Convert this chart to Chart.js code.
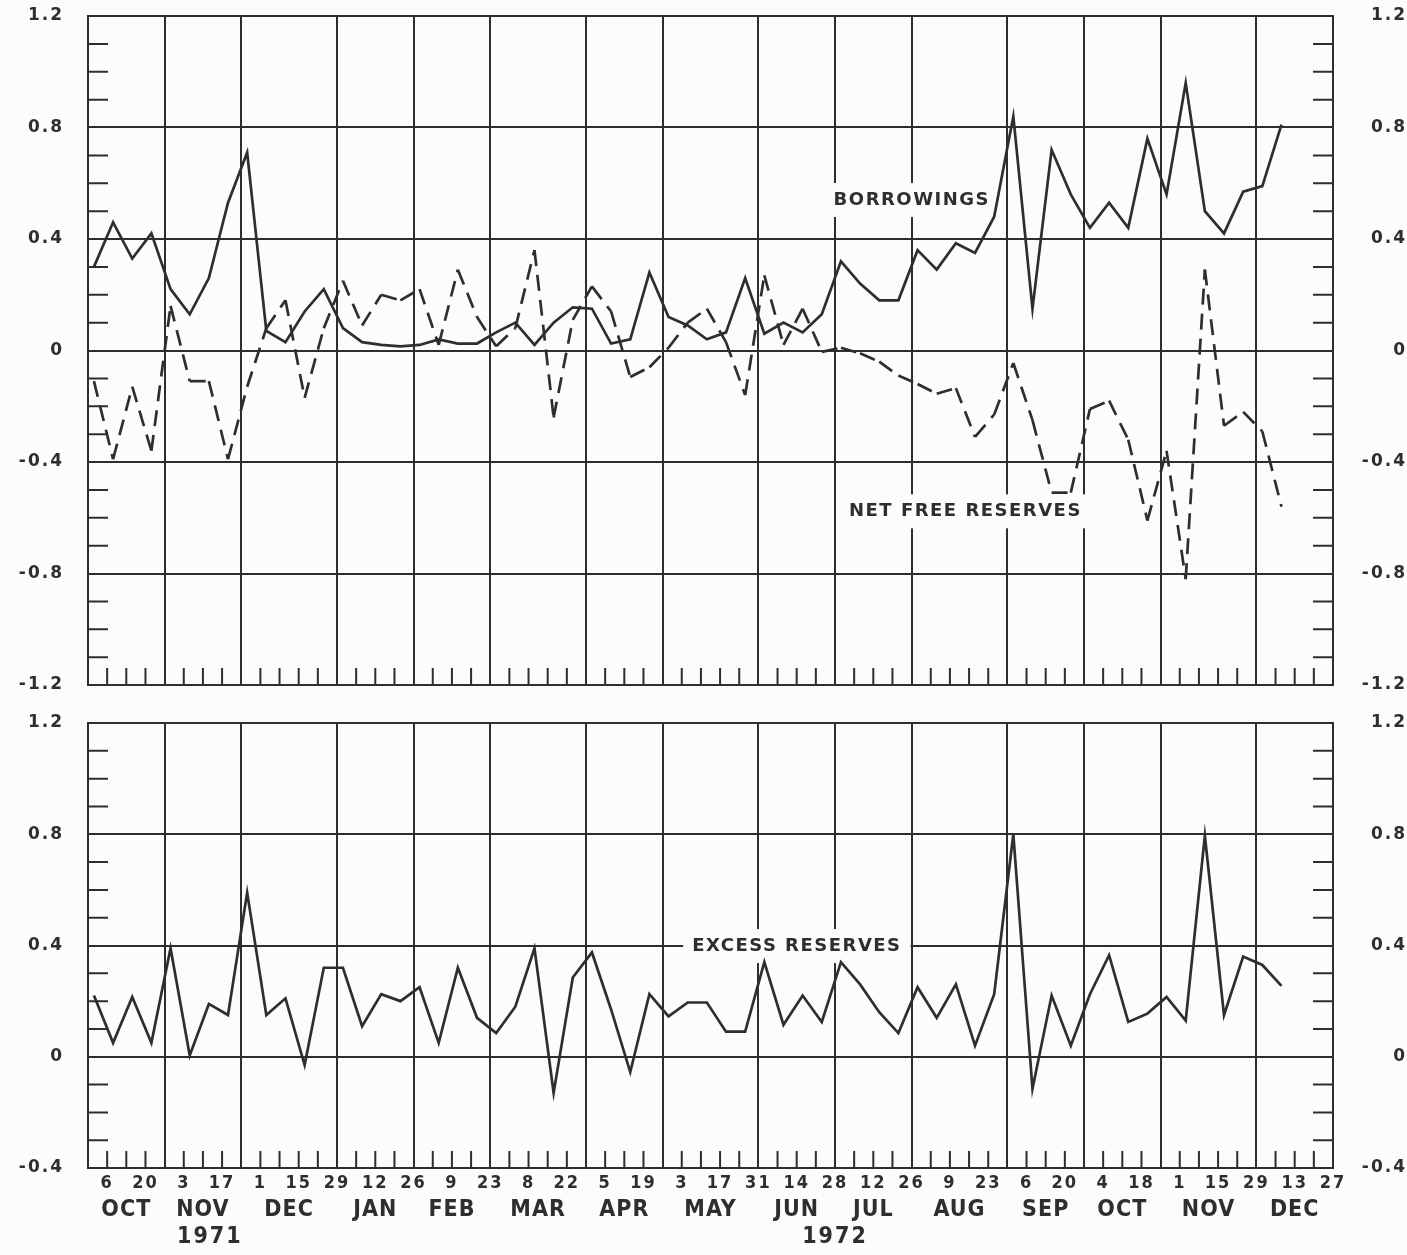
<!DOCTYPE html>
<html>
<head>
<meta charset="utf-8">
<script src="https://cdn.jsdelivr.net/npm/chart.js@4.4.1/dist/chart.umd.min.js"></script>
<style>
  html, body { margin: 0; padding: 0; background: #fcfcfc; }
  #wrap { position: relative; width: 1407px; height: 1255px; overflow: hidden; }
  canvas { position: absolute; left: 0; }
  #top { top: 0; }
  #bottom { top: 700px; }
</style>
</head>
<body>
<div id="wrap">
  <canvas id="top" width="1407" height="704"></canvas>
  <canvas id="bottom" width="1407" height="555"></canvas>
</div>
<script>
// weekly dates (wednesdays), 6 oct 1971 .. 27 dec 1972
const weekDays = ['6','13','20','27', '3','10','17','24', '1','8','15','22','29',
  '5','12','19','26', '2','9','16','23', '1','8','15','22','29', '5','12','19','26',
  '3','10','17','24','31', '7','14','21','28', '5','12','19','26', '2','9','16','23','30',
  '6','13','20','27', '4','11','18','25', '1','8','15','22','29', '6','13','20','27'];
const months = ['OCT','NOV','DEC','JAN','FEB','MAR','APR','MAY','JUN','JUL','AUG','SEP','OCT','NOV','DEC'];
const weeksInMonth = [4,4,5,4,4,5,4,5,4,4,5,4,4,5,4];
const years = ['1971', '1972'];

// billions of dollars, one value per week (oct 6 1971 .. dec 13 1972)
const borrowings = [0.30, 0.46, 0.33, 0.42, 0.22, 0.13, 0.26, 0.53, 0.71, 0.07,
  0.03, 0.14, 0.22, 0.08, 0.03, 0.02, 0.015, 0.02, 0.04, 0.025,
  0.025, 0.065, 0.10, 0.02, 0.10, 0.155, 0.15, 0.025, 0.04, 0.28,
  0.12, 0.09, 0.04, 0.065, 0.26, 0.06, 0.10, 0.065, 0.13, 0.32,
  0.24, 0.18, 0.18, 0.36, 0.29, 0.385, 0.35, 0.48, 0.84, 0.15,
  0.72, 0.56, 0.44, 0.53, 0.44, 0.76, 0.56, 0.96, 0.50, 0.42,
  0.57, 0.59, 0.81];
const netFreeReserves = [-0.11, -0.39, -0.13, -0.36, 0.16, -0.11, -0.11, -0.39, -0.13, 0.08,
  0.18, -0.17, 0.08, 0.25, 0.09, 0.20, 0.18, 0.22, 0.02, 0.29,
  0.12, 0.015, 0.08, 0.36, -0.24, 0.11, 0.23, 0.14, -0.095, -0.06,
  0.01, 0.10, 0.15, 0.03, -0.16, 0.27, 0.02, 0.15, -0.005, 0.01,
  -0.01, -0.04, -0.09, -0.12, -0.155, -0.135, -0.31, -0.23, -0.045, -0.25,
  -0.51, -0.51, -0.21, -0.18, -0.32, -0.61, -0.36, -0.82, 0.29, -0.27,
  -0.22, -0.29, -0.56];
const excessReserves = [0.22, 0.05, 0.215, 0.05, 0.39, 0.005, 0.19, 0.15, 0.59, 0.15,
  0.21, -0.03, 0.32, 0.32, 0.11, 0.225, 0.20, 0.25, 0.05, 0.32,
  0.14, 0.085, 0.18, 0.39, -0.13, 0.285, 0.375, 0.17, -0.055, 0.225,
  0.145, 0.195, 0.195, 0.09, 0.09, 0.34, 0.115, 0.22, 0.125, 0.34,
  0.26, 0.16, 0.085, 0.25, 0.14, 0.26, 0.04, 0.225, 0.80, -0.115,
  0.22, 0.04, 0.225, 0.365, 0.125, 0.155, 0.215, 0.13, 0.795, 0.15,
  0.36, 0.33, 0.255];

const INK = '#2e2e2e';
const NONE = 'rgba(0,0,0,0)';
const FIRST_EDGE = -0.31; // left edge of the first week slot, in weeks

// week slot edges and which of them are month boundaries
const edges = [];
for (let i = 0; i <= weekDays.length; i++) edges.push(Math.round((i + FIRST_EDGE) * 100) / 100);
const monthEdge = new Set([0]);
let cum = 0;
weeksInMonth.forEach(w => { cum += w; monthEdge.add(cum); });

const isMajor = v => Math.round(v * 10) % 4 === 0;
const fmt = v => Math.abs(v) < 1e-9 ? '0' : v.toFixed(1);
const toPoints = arr => arr.map((v, k) => ({ x: k, y: v }));

const tickFont = { family: "'DejaVu Sans', sans-serif", weight: 'bold', size: 17 };
const dayFont = { family: "'DejaVu Sans Condensed', 'DejaVu Sans', sans-serif", weight: 'bold', size: 18 };

const xScale = (showLabels) => ({
  type: 'linear',
  min: edges[0],
  max: edges[edges.length - 1],
  afterBuildTicks: s => { s.ticks = edges.map(v => ({ value: v })); },
  afterFit: s => { s.height = showLabels ? 87 : 0; },
  grid: { color: c => monthEdge.has(c.index) ? INK : NONE, lineWidth: 2, drawTicks: false },
  border: { color: INK, width: 2 },
  ticks: {
    display: showLabels, autoSkip: false, maxRotation: 0, minRotation: 0,
    padding: 5, color: INK, font: dayFont,
    callback: (v, i) => { const k = i - 1; return (k >= 0 && k % 2 === 0) ? weekDays[k] : ''; }
  }
});

// label offset is done with an invisible tick mark so the layout keeps its padding
const yScale = (min, max, pos) => ({
  type: 'linear',
  position: pos,
  min: min,
  max: max,
  afterBuildTicks: s => {
    const t = [];
    for (let i = Math.round(min * 10); i <= Math.round(max * 10); i++) t.push({ value: i / 10 });
    s.ticks = t;
  },
  afterFit: s => { s.width = pos === 'left' ? 88 : 74; },
  grid: {
    drawOnChartArea: pos === 'left',
    color: c => isMajor(c.tick.value) ? INK : NONE,
    lineWidth: 2,
    drawTicks: true,
    tickLength: pos === 'left' ? 24 : 22,
    tickColor: NONE
  },
  border: { display: true, color: INK, width: 2 },
  ticks: {
    autoSkip: false, color: INK, font: tickFont, padding: 0,
    crossAlign: pos === 'left' ? 'near' : 'far',
    callback: v => isMajor(v) ? fmt(v) : ''
  }
});

// little tick marks inside the frame + text tags with white backing
const sketch = {
  id: 'sketch',
  beforeUpdate(chart) { chart.ctx.letterSpacing = '2px'; },
  beforeDraw(chart) { chart.ctx.letterSpacing = '2px'; },
  beforeDatasetsDraw(chart, args, opts) {
    const { ctx, chartArea: a } = chart;
    const x = chart.scales.x, y = chart.scales.y;
    ctx.save();
    ctx.strokeStyle = INK;
    ctx.lineWidth = 2;
    ctx.beginPath();
    y.ticks.forEach(t => {
      if (isMajor(t.value)) return;
      const py = y.getPixelForValue(t.value);
      ctx.moveTo(a.left, py); ctx.lineTo(a.left + 20, py);
      ctx.moveTo(a.right - 20, py); ctx.lineTo(a.right, py);
    });
    x.ticks.forEach((t, i) => {
      if (monthEdge.has(i)) return;
      const px = x.getPixelForValue(t.value);
      ctx.moveTo(px, a.bottom); ctx.lineTo(px, a.bottom - 17);
    });
    ctx.stroke();

    ctx.font = "bold 18px 'DejaVu Sans', sans-serif";
    ctx.letterSpacing = '1.5px';
    ctx.textAlign = 'center';
    ctx.textBaseline = 'middle';
    (opts.tags || []).forEach(tag => {
      const px = x.getPixelForValue(tag.x), py = y.getPixelForValue(tag.y);
      const w = ctx.measureText(tag.text).width;
      ctx.fillStyle = '#fcfcfc';
      ctx.fillRect(px - w / 2 - 9, py - 17, w + 18, 34);
      ctx.fillStyle = INK;
      ctx.fillText(tag.text, px, py);
    });
    ctx.restore();
  },
  afterDraw(chart, args, opts) {
    if (!opts.footer) return;
    const { ctx, chartArea: a } = chart;
    const x = chart.scales.x;
    ctx.save();
    ctx.fillStyle = INK;
    ctx.textAlign = 'center';
    ctx.textBaseline = 'middle';
    ctx.font = "bold 23px 'Liberation Sans Narrow', 'DejaVu Sans Condensed', sans-serif";
    ctx.letterSpacing = '1px';
    let c = 0;
    months.forEach((m, i) => {
      const mid = FIRST_EDGE + c + weeksInMonth[i] / 2;
      ctx.fillText(m, x.getPixelForValue(mid), a.bottom + 42);
      c += weeksInMonth[i];
    });
    ctx.letterSpacing = '2px';
    const yearWeek = [6.05, 38.69];
    years.forEach((yr, i) => ctx.fillText(yr, x.getPixelForValue(yearWeek[i]), a.bottom + 69));
    ctx.restore();
  }
};

const baseOptions = (yMin, yMax, withLabels, pad, sketchOpts) => ({
  responsive: false,
  animation: false,
  events: [],
  layout: { padding: pad },
  plugins: { legend: { display: false }, tooltip: { enabled: false }, sketch: sketchOpts },
  scales: {
    x: xScale(withLabels),
    y: yScale(yMin, yMax, 'left'),
    y2: yScale(yMin, yMax, 'right')
  }
});

const solid = (label, values) => ({
  label: label, data: toPoints(values), borderColor: INK, borderWidth: 2.7,
  pointRadius: 0, tension: 0, fill: false, yAxisID: 'y'
});

new Chart(document.getElementById('top'), {
  type: 'line',
  data: {
    datasets: [
      solid('BORROWINGS', borrowings),
      Object.assign(solid('NET FREE RESERVES', netFreeReserves), {
        borderDash: [16, 9],
        segment: { borderDashOffset: c => c.p0DataIndex * 0.001 }
      })
    ]
  },
  options: baseOptions(-1.2, 1.2, false, { top: 16, bottom: 19, left: 0, right: 0 }, {
    tags: [{ text: 'BORROWINGS', x: 42.7, y: 0.54 }, { text: 'NET FREE RESERVES', x: 45.5, y: -0.577 }]
  }),
  plugins: [sketch]
});

new Chart(document.getElementById('bottom'), {
  type: 'line',
  data: { datasets: [solid('EXCESS RESERVES', excessReserves)] },
  options: baseOptions(-0.4, 1.2, true, { top: 23, bottom: 0, left: 0, right: 0 }, {
    tags: [{ text: 'EXCESS RESERVES', x: 36.7, y: 0.398 }],
    footer: true
  }),
  plugins: [sketch]
});
</script>
</body>
</html>
